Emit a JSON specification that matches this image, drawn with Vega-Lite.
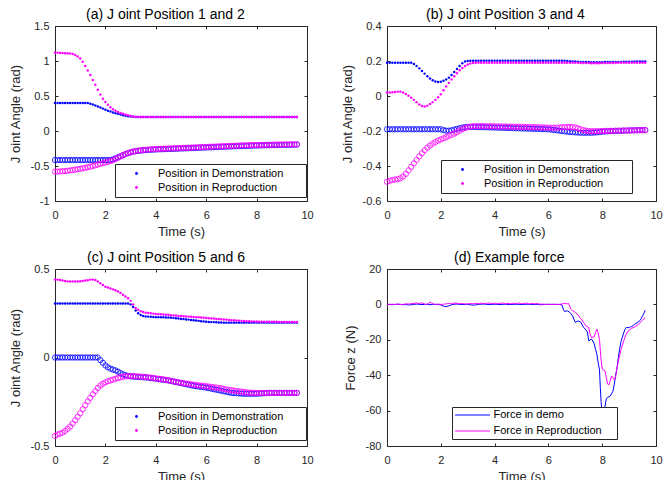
{
"$schema": "https://vega.github.io/schema/vega-lite/v6.json",
"background": "white",
"padding": {"left": 8, "top": 7, "right": 5, "bottom": 0},
"config": {
  "font": "Liberation Sans",
  "view": {"stroke": "#262626", "strokeWidth": 1},
  "axis": {"grid": false, "domain": false, "ticks": true, "tickSize": -3, "tickColor": "#262626", "tickWidth": 1, "labelFont": "Liberation Sans", "labelFontSize": 11, "labelColor": "#262626", "labelPadding": 11, "titleFont": "Liberation Sans", "titleFontSize": 13, "titleFontWeight": "normal", "titleColor": "#262626", "labelFlush": false, "labelOverlap": false},
  "axisX": {"titlePadding": 5},
  "axisY": {"labelPadding": 9, "titlePadding": 8},
  "title": {"font": "Liberation Sans", "fontSize": 14, "fontWeight": "normal", "color": "#000000", "offset": -2, "frame": "group"},
  "legend": {"labelFont": "Liberation Sans", "labelFontSize": 11, "labelColor": "#000000", "strokeColor": "#262626", "fillColor": "#ffffff"}
},
"datasets": {
"a1d": [{"t":0,"v":0.4},{"t":0.1,"v":0.4},{"t":0.2,"v":0.4},{"t":0.3,"v":0.4},{"t":0.4,"v":0.4},{"t":0.5,"v":0.4},{"t":0.6,"v":0.4},{"t":0.7,"v":0.4},{"t":0.8,"v":0.4},{"t":0.9,"v":0.4},{"t":1,"v":0.4},{"t":1.1,"v":0.4},{"t":1.2,"v":0.4},{"t":1.3,"v":0.4},{"t":1.4,"v":0.39},{"t":1.5,"v":0.38},{"t":1.6,"v":0.365},{"t":1.7,"v":0.35},{"t":1.8,"v":0.335},{"t":1.9,"v":0.32},{"t":2,"v":0.305},{"t":2.1,"v":0.29},{"t":2.2,"v":0.278},{"t":2.3,"v":0.265},{"t":2.4,"v":0.255},{"t":2.5,"v":0.245},{"t":2.6,"v":0.235},{"t":2.7,"v":0.226},{"t":2.8,"v":0.218},{"t":2.9,"v":0.211},{"t":3,"v":0.206},{"t":3.1,"v":0.203},{"t":3.2,"v":0.201},{"t":3.3,"v":0.2},{"t":3.4,"v":0.2},{"t":3.5,"v":0.2},{"t":3.6,"v":0.2},{"t":3.7,"v":0.2},{"t":3.8,"v":0.2},{"t":3.9,"v":0.2},{"t":4,"v":0.2},{"t":4.1,"v":0.2},{"t":4.2,"v":0.2},{"t":4.3,"v":0.2},{"t":4.4,"v":0.2},{"t":4.5,"v":0.2},{"t":4.6,"v":0.2},{"t":4.7,"v":0.2},{"t":4.8,"v":0.2},{"t":4.9,"v":0.2},{"t":5,"v":0.2},{"t":5.1,"v":0.2},{"t":5.2,"v":0.2},{"t":5.3,"v":0.2},{"t":5.4,"v":0.2},{"t":5.5,"v":0.2},{"t":5.6,"v":0.2},{"t":5.7,"v":0.2},{"t":5.8,"v":0.2},{"t":5.9,"v":0.2},{"t":6,"v":0.2},{"t":6.1,"v":0.2},{"t":6.2,"v":0.2},{"t":6.3,"v":0.2},{"t":6.4,"v":0.2},{"t":6.5,"v":0.2},{"t":6.6,"v":0.2},{"t":6.7,"v":0.2},{"t":6.8,"v":0.2},{"t":6.9,"v":0.2},{"t":7,"v":0.2},{"t":7.1,"v":0.2},{"t":7.2,"v":0.2},{"t":7.3,"v":0.2},{"t":7.4,"v":0.2},{"t":7.5,"v":0.2},{"t":7.6,"v":0.2},{"t":7.7,"v":0.2},{"t":7.8,"v":0.2},{"t":7.9,"v":0.2},{"t":8,"v":0.2},{"t":8.1,"v":0.2},{"t":8.2,"v":0.2},{"t":8.3,"v":0.2},{"t":8.4,"v":0.2},{"t":8.5,"v":0.2},{"t":8.6,"v":0.2},{"t":8.7,"v":0.2},{"t":8.8,"v":0.2},{"t":8.9,"v":0.2},{"t":9,"v":0.2},{"t":9.1,"v":0.2},{"t":9.2,"v":0.2},{"t":9.3,"v":0.2},{"t":9.4,"v":0.2},{"t":9.5,"v":0.2},{"t":9.6,"v":0.2}],
"a1r": [{"t":0,"v":1.12},{"t":0.1,"v":1.12},{"t":0.2,"v":1.115},{"t":0.3,"v":1.113},{"t":0.4,"v":1.112},{"t":0.5,"v":1.11},{"t":0.6,"v":1.108},{"t":0.7,"v":1.1},{"t":0.8,"v":1.085},{"t":0.9,"v":1.065},{"t":1,"v":1.035},{"t":1.1,"v":0.99},{"t":1.2,"v":0.93},{"t":1.3,"v":0.865},{"t":1.4,"v":0.8},{"t":1.5,"v":0.73},{"t":1.6,"v":0.66},{"t":1.7,"v":0.59},{"t":1.8,"v":0.52},{"t":1.9,"v":0.46},{"t":2,"v":0.415},{"t":2.1,"v":0.375},{"t":2.2,"v":0.34},{"t":2.3,"v":0.31},{"t":2.4,"v":0.29},{"t":2.5,"v":0.272},{"t":2.6,"v":0.258},{"t":2.7,"v":0.247},{"t":2.8,"v":0.235},{"t":2.9,"v":0.225},{"t":3,"v":0.215},{"t":3.1,"v":0.208},{"t":3.2,"v":0.204},{"t":3.3,"v":0.202},{"t":3.4,"v":0.2},{"t":3.5,"v":0.2},{"t":3.6,"v":0.2},{"t":3.7,"v":0.2},{"t":3.8,"v":0.2},{"t":3.9,"v":0.2},{"t":4,"v":0.2},{"t":4.1,"v":0.2},{"t":4.2,"v":0.2},{"t":4.3,"v":0.2},{"t":4.4,"v":0.2},{"t":4.5,"v":0.2},{"t":4.6,"v":0.2},{"t":4.7,"v":0.2},{"t":4.8,"v":0.2},{"t":4.9,"v":0.2},{"t":5,"v":0.2},{"t":5.1,"v":0.2},{"t":5.2,"v":0.2},{"t":5.3,"v":0.2},{"t":5.4,"v":0.2},{"t":5.5,"v":0.2},{"t":5.6,"v":0.2},{"t":5.7,"v":0.2},{"t":5.8,"v":0.2},{"t":5.9,"v":0.2},{"t":6,"v":0.2},{"t":6.1,"v":0.2},{"t":6.2,"v":0.2},{"t":6.3,"v":0.2},{"t":6.4,"v":0.2},{"t":6.5,"v":0.2},{"t":6.6,"v":0.2},{"t":6.7,"v":0.2},{"t":6.8,"v":0.2},{"t":6.9,"v":0.2},{"t":7,"v":0.2},{"t":7.1,"v":0.2},{"t":7.2,"v":0.2},{"t":7.3,"v":0.2},{"t":7.4,"v":0.2},{"t":7.5,"v":0.2},{"t":7.6,"v":0.2},{"t":7.7,"v":0.2},{"t":7.8,"v":0.2},{"t":7.9,"v":0.2},{"t":8,"v":0.2},{"t":8.1,"v":0.2},{"t":8.2,"v":0.2},{"t":8.3,"v":0.2},{"t":8.4,"v":0.2},{"t":8.5,"v":0.2},{"t":8.6,"v":0.2},{"t":8.7,"v":0.2},{"t":8.8,"v":0.2},{"t":8.9,"v":0.2},{"t":9,"v":0.2},{"t":9.1,"v":0.2},{"t":9.2,"v":0.2},{"t":9.3,"v":0.2},{"t":9.4,"v":0.2},{"t":9.5,"v":0.2},{"t":9.6,"v":0.2}],
"a2d": [{"t":0,"v":-0.415},{"t":0.1,"v":-0.415},{"t":0.2,"v":-0.415},{"t":0.3,"v":-0.415},{"t":0.4,"v":-0.415},{"t":0.5,"v":-0.415},{"t":0.6,"v":-0.415},{"t":0.7,"v":-0.415},{"t":0.8,"v":-0.415},{"t":0.9,"v":-0.415},{"t":1,"v":-0.415},{"t":1.1,"v":-0.415},{"t":1.2,"v":-0.415},{"t":1.3,"v":-0.415},{"t":1.4,"v":-0.415},{"t":1.5,"v":-0.415},{"t":1.6,"v":-0.415},{"t":1.7,"v":-0.415},{"t":1.8,"v":-0.415},{"t":1.9,"v":-0.415},{"t":2,"v":-0.415},{"t":2.1,"v":-0.415},{"t":2.2,"v":-0.415},{"t":2.3,"v":-0.405},{"t":2.4,"v":-0.39},{"t":2.5,"v":-0.375},{"t":2.6,"v":-0.36},{"t":2.7,"v":-0.345},{"t":2.8,"v":-0.33},{"t":2.9,"v":-0.317},{"t":3,"v":-0.305},{"t":3.1,"v":-0.296},{"t":3.2,"v":-0.289},{"t":3.3,"v":-0.284},{"t":3.4,"v":-0.28},{"t":3.5,"v":-0.276},{"t":3.6,"v":-0.273},{"t":3.7,"v":-0.27},{"t":3.8,"v":-0.268},{"t":3.9,"v":-0.266},{"t":4,"v":-0.264},{"t":4.1,"v":-0.263},{"t":4.2,"v":-0.261},{"t":4.3,"v":-0.26},{"t":4.4,"v":-0.259},{"t":4.5,"v":-0.257},{"t":4.6,"v":-0.256},{"t":4.7,"v":-0.255},{"t":4.8,"v":-0.253},{"t":4.9,"v":-0.252},{"t":5,"v":-0.25},{"t":5.1,"v":-0.249},{"t":5.2,"v":-0.248},{"t":5.3,"v":-0.246},{"t":5.4,"v":-0.245},{"t":5.5,"v":-0.243},{"t":5.6,"v":-0.242},{"t":5.7,"v":-0.24},{"t":5.8,"v":-0.239},{"t":5.9,"v":-0.237},{"t":6,"v":-0.236},{"t":6.1,"v":-0.234},{"t":6.2,"v":-0.233},{"t":6.3,"v":-0.231},{"t":6.4,"v":-0.23},{"t":6.5,"v":-0.228},{"t":6.6,"v":-0.227},{"t":6.7,"v":-0.225},{"t":6.8,"v":-0.224},{"t":6.9,"v":-0.222},{"t":7,"v":-0.221},{"t":7.1,"v":-0.22},{"t":7.2,"v":-0.218},{"t":7.3,"v":-0.217},{"t":7.4,"v":-0.215},{"t":7.5,"v":-0.214},{"t":7.6,"v":-0.213},{"t":7.7,"v":-0.212},{"t":7.8,"v":-0.21},{"t":7.9,"v":-0.209},{"t":8,"v":-0.208},{"t":8.1,"v":-0.207},{"t":8.2,"v":-0.206},{"t":8.3,"v":-0.205},{"t":8.4,"v":-0.204},{"t":8.5,"v":-0.203},{"t":8.6,"v":-0.202},{"t":8.7,"v":-0.201},{"t":8.8,"v":-0.2},{"t":8.9,"v":-0.2},{"t":9,"v":-0.199},{"t":9.1,"v":-0.198},{"t":9.2,"v":-0.198},{"t":9.3,"v":-0.197},{"t":9.4,"v":-0.196},{"t":9.5,"v":-0.196},{"t":9.6,"v":-0.195}],
"a2r": [{"t":0,"v":-0.58},{"t":0.1,"v":-0.58},{"t":0.2,"v":-0.578},{"t":0.3,"v":-0.575},{"t":0.4,"v":-0.572},{"t":0.5,"v":-0.568},{"t":0.6,"v":-0.563},{"t":0.7,"v":-0.558},{"t":0.8,"v":-0.552},{"t":0.9,"v":-0.546},{"t":1,"v":-0.54},{"t":1.1,"v":-0.533},{"t":1.2,"v":-0.526},{"t":1.3,"v":-0.518},{"t":1.4,"v":-0.51},{"t":1.5,"v":-0.5},{"t":1.6,"v":-0.49},{"t":1.7,"v":-0.48},{"t":1.8,"v":-0.47},{"t":1.9,"v":-0.46},{"t":2,"v":-0.45},{"t":2.1,"v":-0.44},{"t":2.2,"v":-0.43},{"t":2.3,"v":-0.418},{"t":2.4,"v":-0.4},{"t":2.5,"v":-0.382},{"t":2.6,"v":-0.363},{"t":2.7,"v":-0.345},{"t":2.8,"v":-0.328},{"t":2.9,"v":-0.313},{"t":3,"v":-0.302},{"t":3.1,"v":-0.293},{"t":3.2,"v":-0.286},{"t":3.3,"v":-0.28},{"t":3.4,"v":-0.275},{"t":3.5,"v":-0.271},{"t":3.6,"v":-0.268},{"t":3.7,"v":-0.265},{"t":3.8,"v":-0.262},{"t":3.9,"v":-0.26},{"t":4,"v":-0.258},{"t":4.1,"v":-0.256},{"t":4.2,"v":-0.255},{"t":4.3,"v":-0.253},{"t":4.4,"v":-0.252},{"t":4.5,"v":-0.25},{"t":4.6,"v":-0.249},{"t":4.7,"v":-0.247},{"t":4.8,"v":-0.246},{"t":4.9,"v":-0.244},{"t":5,"v":-0.243},{"t":5.1,"v":-0.241},{"t":5.2,"v":-0.24},{"t":5.3,"v":-0.238},{"t":5.4,"v":-0.237},{"t":5.5,"v":-0.235},{"t":5.6,"v":-0.233},{"t":5.7,"v":-0.232},{"t":5.8,"v":-0.23},{"t":5.9,"v":-0.229},{"t":6,"v":-0.227},{"t":6.1,"v":-0.226},{"t":6.2,"v":-0.224},{"t":6.3,"v":-0.223},{"t":6.4,"v":-0.221},{"t":6.5,"v":-0.22},{"t":6.6,"v":-0.218},{"t":6.7,"v":-0.217},{"t":6.8,"v":-0.215},{"t":6.9,"v":-0.214},{"t":7,"v":-0.212},{"t":7.1,"v":-0.211},{"t":7.2,"v":-0.209},{"t":7.3,"v":-0.208},{"t":7.4,"v":-0.206},{"t":7.5,"v":-0.205},{"t":7.6,"v":-0.204},{"t":7.7,"v":-0.203},{"t":7.8,"v":-0.202},{"t":7.9,"v":-0.201},{"t":8,"v":-0.2},{"t":8.1,"v":-0.199},{"t":8.2,"v":-0.198},{"t":8.3,"v":-0.198},{"t":8.4,"v":-0.197},{"t":8.5,"v":-0.196},{"t":8.6,"v":-0.196},{"t":8.7,"v":-0.195},{"t":8.8,"v":-0.194},{"t":8.9,"v":-0.194},{"t":9,"v":-0.193},{"t":9.1,"v":-0.193},{"t":9.2,"v":-0.192},{"t":9.3,"v":-0.192},{"t":9.4,"v":-0.191},{"t":9.5,"v":-0.191},{"t":9.6,"v":-0.19}],
"b1d": [{"t":0,"v":0.19},{"t":0.1,"v":0.19},{"t":0.2,"v":0.19},{"t":0.3,"v":0.19},{"t":0.4,"v":0.19},{"t":0.5,"v":0.19},{"t":0.6,"v":0.19},{"t":0.7,"v":0.19},{"t":0.8,"v":0.19},{"t":0.9,"v":0.19},{"t":1,"v":0.183},{"t":1.1,"v":0.172},{"t":1.2,"v":0.158},{"t":1.3,"v":0.143},{"t":1.4,"v":0.128},{"t":1.5,"v":0.113},{"t":1.6,"v":0.1},{"t":1.7,"v":0.09},{"t":1.8,"v":0.083},{"t":1.9,"v":0.08},{"t":2,"v":0.082},{"t":2.1,"v":0.087},{"t":2.2,"v":0.095},{"t":2.3,"v":0.105},{"t":2.4,"v":0.12},{"t":2.5,"v":0.137},{"t":2.6,"v":0.155},{"t":2.7,"v":0.172},{"t":2.8,"v":0.187},{"t":2.9,"v":0.197},{"t":3,"v":0.2},{"t":3.1,"v":0.202},{"t":3.2,"v":0.202},{"t":3.3,"v":0.202},{"t":3.4,"v":0.202},{"t":3.5,"v":0.202},{"t":3.6,"v":0.202},{"t":3.7,"v":0.202},{"t":3.8,"v":0.202},{"t":3.9,"v":0.202},{"t":4,"v":0.202},{"t":4.1,"v":0.202},{"t":4.2,"v":0.202},{"t":4.3,"v":0.202},{"t":4.4,"v":0.202},{"t":4.5,"v":0.202},{"t":4.6,"v":0.202},{"t":4.7,"v":0.202},{"t":4.8,"v":0.202},{"t":4.9,"v":0.202},{"t":5,"v":0.202},{"t":5.1,"v":0.202},{"t":5.2,"v":0.202},{"t":5.3,"v":0.202},{"t":5.4,"v":0.202},{"t":5.5,"v":0.202},{"t":5.6,"v":0.202},{"t":5.7,"v":0.202},{"t":5.8,"v":0.202},{"t":5.9,"v":0.202},{"t":6,"v":0.202},{"t":6.1,"v":0.202},{"t":6.2,"v":0.202},{"t":6.3,"v":0.202},{"t":6.4,"v":0.202},{"t":6.5,"v":0.202},{"t":6.6,"v":0.201},{"t":6.7,"v":0.2},{"t":6.8,"v":0.199},{"t":6.9,"v":0.198},{"t":7,"v":0.197},{"t":7.1,"v":0.196},{"t":7.2,"v":0.195},{"t":7.3,"v":0.195},{"t":7.4,"v":0.194},{"t":7.5,"v":0.194},{"t":7.6,"v":0.193},{"t":7.7,"v":0.193},{"t":7.8,"v":0.193},{"t":7.9,"v":0.193},{"t":8,"v":0.193},{"t":8.1,"v":0.194},{"t":8.2,"v":0.194},{"t":8.3,"v":0.194},{"t":8.4,"v":0.195},{"t":8.5,"v":0.195},{"t":8.6,"v":0.195},{"t":8.7,"v":0.195},{"t":8.8,"v":0.196},{"t":8.9,"v":0.196},{"t":9,"v":0.196},{"t":9.1,"v":0.196},{"t":9.2,"v":0.197},{"t":9.3,"v":0.197},{"t":9.4,"v":0.197},{"t":9.5,"v":0.198},{"t":9.6,"v":0.198}],
"b1r": [{"t":0,"v":0.02},{"t":0.1,"v":0.02},{"t":0.2,"v":0.021},{"t":0.3,"v":0.023},{"t":0.4,"v":0.025},{"t":0.5,"v":0.025},{"t":0.6,"v":0.02},{"t":0.7,"v":0.012},{"t":0.8,"v":0.002},{"t":0.9,"v":-0.01},{"t":1,"v":-0.022},{"t":1.1,"v":-0.035},{"t":1.2,"v":-0.048},{"t":1.3,"v":-0.057},{"t":1.4,"v":-0.06},{"t":1.5,"v":-0.055},{"t":1.6,"v":-0.046},{"t":1.7,"v":-0.035},{"t":1.8,"v":-0.022},{"t":1.9,"v":-0.007},{"t":2,"v":0.01},{"t":2.1,"v":0.033},{"t":2.2,"v":0.055},{"t":2.3,"v":0.075},{"t":2.4,"v":0.095},{"t":2.5,"v":0.113},{"t":2.6,"v":0.13},{"t":2.7,"v":0.147},{"t":2.8,"v":0.16},{"t":2.9,"v":0.172},{"t":3,"v":0.18},{"t":3.1,"v":0.186},{"t":3.2,"v":0.189},{"t":3.3,"v":0.19},{"t":3.4,"v":0.19},{"t":3.5,"v":0.19},{"t":3.6,"v":0.19},{"t":3.7,"v":0.19},{"t":3.8,"v":0.19},{"t":3.9,"v":0.19},{"t":4,"v":0.19},{"t":4.1,"v":0.19},{"t":4.2,"v":0.19},{"t":4.3,"v":0.19},{"t":4.4,"v":0.19},{"t":4.5,"v":0.19},{"t":4.6,"v":0.19},{"t":4.7,"v":0.19},{"t":4.8,"v":0.19},{"t":4.9,"v":0.19},{"t":5,"v":0.19},{"t":5.1,"v":0.19},{"t":5.2,"v":0.19},{"t":5.3,"v":0.19},{"t":5.4,"v":0.19},{"t":5.5,"v":0.19},{"t":5.6,"v":0.19},{"t":5.7,"v":0.19},{"t":5.8,"v":0.19},{"t":5.9,"v":0.19},{"t":6,"v":0.19},{"t":6.1,"v":0.19},{"t":6.2,"v":0.19},{"t":6.3,"v":0.19},{"t":6.4,"v":0.19},{"t":6.5,"v":0.19},{"t":6.6,"v":0.19},{"t":6.7,"v":0.19},{"t":6.8,"v":0.19},{"t":6.9,"v":0.19},{"t":7,"v":0.19},{"t":7.1,"v":0.19},{"t":7.2,"v":0.189},{"t":7.3,"v":0.189},{"t":7.4,"v":0.188},{"t":7.5,"v":0.188},{"t":7.6,"v":0.187},{"t":7.7,"v":0.187},{"t":7.8,"v":0.187},{"t":7.9,"v":0.187},{"t":8,"v":0.188},{"t":8.1,"v":0.188},{"t":8.2,"v":0.188},{"t":8.3,"v":0.189},{"t":8.4,"v":0.189},{"t":8.5,"v":0.189},{"t":8.6,"v":0.19},{"t":8.7,"v":0.19},{"t":8.8,"v":0.19},{"t":8.9,"v":0.19},{"t":9,"v":0.19},{"t":9.1,"v":0.19},{"t":9.2,"v":0.19},{"t":9.3,"v":0.19},{"t":9.4,"v":0.19},{"t":9.5,"v":0.19},{"t":9.6,"v":0.19}],
"b2d": [{"t":0,"v":-0.19},{"t":0.1,"v":-0.19},{"t":0.2,"v":-0.19},{"t":0.3,"v":-0.19},{"t":0.4,"v":-0.19},{"t":0.5,"v":-0.19},{"t":0.6,"v":-0.19},{"t":0.7,"v":-0.19},{"t":0.8,"v":-0.19},{"t":0.9,"v":-0.19},{"t":1,"v":-0.19},{"t":1.1,"v":-0.19},{"t":1.2,"v":-0.19},{"t":1.3,"v":-0.19},{"t":1.4,"v":-0.19},{"t":1.5,"v":-0.19},{"t":1.6,"v":-0.19},{"t":1.7,"v":-0.19},{"t":1.8,"v":-0.19},{"t":1.9,"v":-0.19},{"t":2,"v":-0.19},{"t":2.1,"v":-0.195},{"t":2.2,"v":-0.198},{"t":2.3,"v":-0.198},{"t":2.4,"v":-0.196},{"t":2.5,"v":-0.192},{"t":2.6,"v":-0.188},{"t":2.7,"v":-0.184},{"t":2.8,"v":-0.18},{"t":2.9,"v":-0.178},{"t":3,"v":-0.177},{"t":3.1,"v":-0.177},{"t":3.2,"v":-0.177},{"t":3.3,"v":-0.177},{"t":3.4,"v":-0.178},{"t":3.5,"v":-0.178},{"t":3.6,"v":-0.178},{"t":3.7,"v":-0.179},{"t":3.8,"v":-0.179},{"t":3.9,"v":-0.18},{"t":4,"v":-0.18},{"t":4.1,"v":-0.181},{"t":4.2,"v":-0.181},{"t":4.3,"v":-0.182},{"t":4.4,"v":-0.182},{"t":4.5,"v":-0.183},{"t":4.6,"v":-0.183},{"t":4.7,"v":-0.184},{"t":4.8,"v":-0.184},{"t":4.9,"v":-0.185},{"t":5,"v":-0.185},{"t":5.1,"v":-0.186},{"t":5.2,"v":-0.186},{"t":5.3,"v":-0.187},{"t":5.4,"v":-0.187},{"t":5.5,"v":-0.188},{"t":5.6,"v":-0.188},{"t":5.7,"v":-0.189},{"t":5.8,"v":-0.189},{"t":5.9,"v":-0.19},{"t":6,"v":-0.19},{"t":6.1,"v":-0.192},{"t":6.2,"v":-0.194},{"t":6.3,"v":-0.196},{"t":6.4,"v":-0.198},{"t":6.5,"v":-0.2},{"t":6.6,"v":-0.202},{"t":6.7,"v":-0.204},{"t":6.8,"v":-0.206},{"t":6.9,"v":-0.207},{"t":7,"v":-0.208},{"t":7.1,"v":-0.209},{"t":7.2,"v":-0.21},{"t":7.3,"v":-0.21},{"t":7.4,"v":-0.21},{"t":7.5,"v":-0.21},{"t":7.6,"v":-0.21},{"t":7.7,"v":-0.209},{"t":7.8,"v":-0.208},{"t":7.9,"v":-0.206},{"t":8,"v":-0.204},{"t":8.1,"v":-0.203},{"t":8.2,"v":-0.202},{"t":8.3,"v":-0.201},{"t":8.4,"v":-0.2},{"t":8.5,"v":-0.2},{"t":8.6,"v":-0.199},{"t":8.7,"v":-0.199},{"t":8.8,"v":-0.198},{"t":8.9,"v":-0.198},{"t":9,"v":-0.197},{"t":9.1,"v":-0.197},{"t":9.2,"v":-0.196},{"t":9.3,"v":-0.196},{"t":9.4,"v":-0.195},{"t":9.5,"v":-0.195},{"t":9.6,"v":-0.195}],
"b2r": [{"t":0,"v":-0.49},{"t":0.1,"v":-0.485},{"t":0.2,"v":-0.48},{"t":0.3,"v":-0.477},{"t":0.4,"v":-0.475},{"t":0.5,"v":-0.47},{"t":0.6,"v":-0.46},{"t":0.7,"v":-0.445},{"t":0.8,"v":-0.425},{"t":0.9,"v":-0.405},{"t":1,"v":-0.385},{"t":1.1,"v":-0.365},{"t":1.2,"v":-0.345},{"t":1.3,"v":-0.327},{"t":1.4,"v":-0.31},{"t":1.5,"v":-0.295},{"t":1.6,"v":-0.283},{"t":1.7,"v":-0.272},{"t":1.8,"v":-0.263},{"t":1.9,"v":-0.255},{"t":2,"v":-0.248},{"t":2.1,"v":-0.242},{"t":2.2,"v":-0.235},{"t":2.3,"v":-0.228},{"t":2.4,"v":-0.222},{"t":2.5,"v":-0.215},{"t":2.6,"v":-0.207},{"t":2.7,"v":-0.198},{"t":2.8,"v":-0.19},{"t":2.9,"v":-0.183},{"t":3,"v":-0.178},{"t":3.1,"v":-0.175},{"t":3.2,"v":-0.173},{"t":3.3,"v":-0.172},{"t":3.4,"v":-0.172},{"t":3.5,"v":-0.172},{"t":3.6,"v":-0.172},{"t":3.7,"v":-0.173},{"t":3.8,"v":-0.173},{"t":3.9,"v":-0.173},{"t":4,"v":-0.173},{"t":4.1,"v":-0.174},{"t":4.2,"v":-0.174},{"t":4.3,"v":-0.174},{"t":4.4,"v":-0.174},{"t":4.5,"v":-0.175},{"t":4.6,"v":-0.175},{"t":4.7,"v":-0.175},{"t":4.8,"v":-0.176},{"t":4.9,"v":-0.176},{"t":5,"v":-0.176},{"t":5.1,"v":-0.176},{"t":5.2,"v":-0.177},{"t":5.3,"v":-0.177},{"t":5.4,"v":-0.178},{"t":5.5,"v":-0.178},{"t":5.6,"v":-0.179},{"t":5.7,"v":-0.179},{"t":5.8,"v":-0.18},{"t":5.9,"v":-0.18},{"t":6,"v":-0.181},{"t":6.1,"v":-0.181},{"t":6.2,"v":-0.181},{"t":6.3,"v":-0.181},{"t":6.4,"v":-0.18},{"t":6.5,"v":-0.179},{"t":6.6,"v":-0.178},{"t":6.7,"v":-0.177},{"t":6.8,"v":-0.177},{"t":6.9,"v":-0.178},{"t":7,"v":-0.18},{"t":7.1,"v":-0.185},{"t":7.2,"v":-0.19},{"t":7.3,"v":-0.195},{"t":7.4,"v":-0.198},{"t":7.5,"v":-0.2},{"t":7.6,"v":-0.201},{"t":7.7,"v":-0.201},{"t":7.8,"v":-0.201},{"t":7.9,"v":-0.2},{"t":8,"v":-0.2},{"t":8.1,"v":-0.2},{"t":8.2,"v":-0.199},{"t":8.3,"v":-0.199},{"t":8.4,"v":-0.199},{"t":8.5,"v":-0.198},{"t":8.6,"v":-0.198},{"t":8.7,"v":-0.198},{"t":8.8,"v":-0.197},{"t":8.9,"v":-0.197},{"t":9,"v":-0.197},{"t":9.1,"v":-0.196},{"t":9.2,"v":-0.196},{"t":9.3,"v":-0.196},{"t":9.4,"v":-0.195},{"t":9.5,"v":-0.195},{"t":9.6,"v":-0.195}],
"c1d": [{"t":0,"v":0.305},{"t":0.1,"v":0.305},{"t":0.2,"v":0.305},{"t":0.3,"v":0.305},{"t":0.4,"v":0.305},{"t":0.5,"v":0.305},{"t":0.6,"v":0.305},{"t":0.7,"v":0.305},{"t":0.8,"v":0.305},{"t":0.9,"v":0.305},{"t":1,"v":0.305},{"t":1.1,"v":0.305},{"t":1.2,"v":0.305},{"t":1.3,"v":0.305},{"t":1.4,"v":0.305},{"t":1.5,"v":0.305},{"t":1.6,"v":0.305},{"t":1.7,"v":0.305},{"t":1.8,"v":0.305},{"t":1.9,"v":0.305},{"t":2,"v":0.305},{"t":2.1,"v":0.305},{"t":2.2,"v":0.305},{"t":2.3,"v":0.305},{"t":2.4,"v":0.305},{"t":2.5,"v":0.305},{"t":2.6,"v":0.305},{"t":2.7,"v":0.305},{"t":2.8,"v":0.305},{"t":2.9,"v":0.305},{"t":3,"v":0.3},{"t":3.1,"v":0.285},{"t":3.2,"v":0.265},{"t":3.3,"v":0.25},{"t":3.4,"v":0.24},{"t":3.5,"v":0.235},{"t":3.6,"v":0.232},{"t":3.7,"v":0.231},{"t":3.8,"v":0.23},{"t":3.9,"v":0.229},{"t":4,"v":0.228},{"t":4.1,"v":0.228},{"t":4.2,"v":0.227},{"t":4.3,"v":0.227},{"t":4.4,"v":0.226},{"t":4.5,"v":0.226},{"t":4.6,"v":0.225},{"t":4.7,"v":0.224},{"t":4.8,"v":0.222},{"t":4.9,"v":0.22},{"t":5,"v":0.218},{"t":5.1,"v":0.217},{"t":5.2,"v":0.215},{"t":5.3,"v":0.214},{"t":5.4,"v":0.212},{"t":5.5,"v":0.21},{"t":5.6,"v":0.209},{"t":5.7,"v":0.207},{"t":5.8,"v":0.205},{"t":5.9,"v":0.204},{"t":6,"v":0.202},{"t":6.1,"v":0.201},{"t":6.2,"v":0.2},{"t":6.3,"v":0.2},{"t":6.4,"v":0.199},{"t":6.5,"v":0.198},{"t":6.6,"v":0.198},{"t":6.7,"v":0.197},{"t":6.8,"v":0.197},{"t":6.9,"v":0.197},{"t":7,"v":0.197},{"t":7.1,"v":0.197},{"t":7.2,"v":0.197},{"t":7.3,"v":0.197},{"t":7.4,"v":0.197},{"t":7.5,"v":0.197},{"t":7.6,"v":0.197},{"t":7.7,"v":0.197},{"t":7.8,"v":0.197},{"t":7.9,"v":0.197},{"t":8,"v":0.197},{"t":8.1,"v":0.197},{"t":8.2,"v":0.197},{"t":8.3,"v":0.197},{"t":8.4,"v":0.197},{"t":8.5,"v":0.197},{"t":8.6,"v":0.197},{"t":8.7,"v":0.197},{"t":8.8,"v":0.197},{"t":8.9,"v":0.197},{"t":9,"v":0.197},{"t":9.1,"v":0.197},{"t":9.2,"v":0.197},{"t":9.3,"v":0.197},{"t":9.4,"v":0.197},{"t":9.5,"v":0.197},{"t":9.6,"v":0.197}],
"c1r": [{"t":0,"v":0.44},{"t":0.1,"v":0.44},{"t":0.2,"v":0.438},{"t":0.3,"v":0.435},{"t":0.4,"v":0.432},{"t":0.5,"v":0.43},{"t":0.6,"v":0.43},{"t":0.7,"v":0.43},{"t":0.8,"v":0.43},{"t":0.9,"v":0.43},{"t":1,"v":0.431},{"t":1.1,"v":0.432},{"t":1.2,"v":0.435},{"t":1.3,"v":0.437},{"t":1.4,"v":0.44},{"t":1.5,"v":0.44},{"t":1.6,"v":0.438},{"t":1.7,"v":0.43},{"t":1.8,"v":0.42},{"t":1.9,"v":0.41},{"t":2,"v":0.4},{"t":2.1,"v":0.395},{"t":2.2,"v":0.39},{"t":2.3,"v":0.385},{"t":2.4,"v":0.38},{"t":2.5,"v":0.373},{"t":2.6,"v":0.365},{"t":2.7,"v":0.355},{"t":2.8,"v":0.345},{"t":2.9,"v":0.335},{"t":3,"v":0.32},{"t":3.1,"v":0.3},{"t":3.2,"v":0.28},{"t":3.3,"v":0.27},{"t":3.4,"v":0.262},{"t":3.5,"v":0.257},{"t":3.6,"v":0.253},{"t":3.7,"v":0.251},{"t":3.8,"v":0.25},{"t":3.9,"v":0.248},{"t":4,"v":0.246},{"t":4.1,"v":0.245},{"t":4.2,"v":0.244},{"t":4.3,"v":0.243},{"t":4.4,"v":0.242},{"t":4.5,"v":0.241},{"t":4.6,"v":0.239},{"t":4.7,"v":0.238},{"t":4.8,"v":0.237},{"t":4.9,"v":0.235},{"t":5,"v":0.234},{"t":5.1,"v":0.233},{"t":5.2,"v":0.232},{"t":5.3,"v":0.231},{"t":5.4,"v":0.23},{"t":5.5,"v":0.229},{"t":5.6,"v":0.228},{"t":5.7,"v":0.227},{"t":5.8,"v":0.226},{"t":5.9,"v":0.225},{"t":6,"v":0.223},{"t":6.1,"v":0.222},{"t":6.2,"v":0.221},{"t":6.3,"v":0.22},{"t":6.4,"v":0.218},{"t":6.5,"v":0.217},{"t":6.6,"v":0.216},{"t":6.7,"v":0.215},{"t":6.8,"v":0.214},{"t":6.9,"v":0.212},{"t":7,"v":0.211},{"t":7.1,"v":0.21},{"t":7.2,"v":0.209},{"t":7.3,"v":0.208},{"t":7.4,"v":0.207},{"t":7.5,"v":0.206},{"t":7.6,"v":0.205},{"t":7.7,"v":0.205},{"t":7.8,"v":0.204},{"t":7.9,"v":0.203},{"t":8,"v":0.203},{"t":8.1,"v":0.202},{"t":8.2,"v":0.202},{"t":8.3,"v":0.202},{"t":8.4,"v":0.202},{"t":8.5,"v":0.202},{"t":8.6,"v":0.202},{"t":8.7,"v":0.202},{"t":8.8,"v":0.202},{"t":8.9,"v":0.201},{"t":9,"v":0.201},{"t":9.1,"v":0.201},{"t":9.2,"v":0.201},{"t":9.3,"v":0.201},{"t":9.4,"v":0.201},{"t":9.5,"v":0.201},{"t":9.6,"v":0.201}],
"c2d": [{"t":0,"v":0},{"t":0.1,"v":0},{"t":0.2,"v":0},{"t":0.3,"v":0},{"t":0.4,"v":0},{"t":0.5,"v":0},{"t":0.6,"v":0},{"t":0.7,"v":0},{"t":0.8,"v":0},{"t":0.9,"v":0},{"t":1,"v":0},{"t":1.1,"v":0},{"t":1.2,"v":0},{"t":1.3,"v":0},{"t":1.4,"v":0},{"t":1.5,"v":0},{"t":1.6,"v":0},{"t":1.7,"v":0},{"t":1.8,"v":-0.015},{"t":1.9,"v":-0.03},{"t":2,"v":-0.045},{"t":2.1,"v":-0.055},{"t":2.2,"v":-0.063},{"t":2.3,"v":-0.068},{"t":2.4,"v":-0.073},{"t":2.5,"v":-0.08},{"t":2.6,"v":-0.088},{"t":2.7,"v":-0.095},{"t":2.8,"v":-0.1},{"t":2.9,"v":-0.104},{"t":3,"v":-0.107},{"t":3.1,"v":-0.108},{"t":3.2,"v":-0.109},{"t":3.3,"v":-0.11},{"t":3.4,"v":-0.111},{"t":3.5,"v":-0.112},{"t":3.6,"v":-0.113},{"t":3.7,"v":-0.114},{"t":3.8,"v":-0.116},{"t":3.9,"v":-0.118},{"t":4,"v":-0.12},{"t":4.1,"v":-0.122},{"t":4.2,"v":-0.124},{"t":4.3,"v":-0.126},{"t":4.4,"v":-0.128},{"t":4.5,"v":-0.13},{"t":4.6,"v":-0.133},{"t":4.7,"v":-0.136},{"t":4.8,"v":-0.139},{"t":4.9,"v":-0.142},{"t":5,"v":-0.145},{"t":5.1,"v":-0.148},{"t":5.2,"v":-0.151},{"t":5.3,"v":-0.154},{"t":5.4,"v":-0.157},{"t":5.5,"v":-0.16},{"t":5.6,"v":-0.162},{"t":5.7,"v":-0.164},{"t":5.8,"v":-0.166},{"t":5.9,"v":-0.168},{"t":6,"v":-0.17},{"t":6.1,"v":-0.173},{"t":6.2,"v":-0.176},{"t":6.3,"v":-0.179},{"t":6.4,"v":-0.182},{"t":6.5,"v":-0.185},{"t":6.6,"v":-0.188},{"t":6.7,"v":-0.191},{"t":6.8,"v":-0.194},{"t":6.9,"v":-0.197},{"t":7,"v":-0.2},{"t":7.1,"v":-0.201},{"t":7.2,"v":-0.202},{"t":7.3,"v":-0.203},{"t":7.4,"v":-0.204},{"t":7.5,"v":-0.205},{"t":7.6,"v":-0.205},{"t":7.7,"v":-0.205},{"t":7.8,"v":-0.205},{"t":7.9,"v":-0.205},{"t":8,"v":-0.205},{"t":8.1,"v":-0.204},{"t":8.2,"v":-0.203},{"t":8.3,"v":-0.202},{"t":8.4,"v":-0.201},{"t":8.5,"v":-0.2},{"t":8.6,"v":-0.2},{"t":8.7,"v":-0.2},{"t":8.8,"v":-0.2},{"t":8.9,"v":-0.2},{"t":9,"v":-0.2},{"t":9.1,"v":-0.2},{"t":9.2,"v":-0.2},{"t":9.3,"v":-0.2},{"t":9.4,"v":-0.2},{"t":9.5,"v":-0.2},{"t":9.6,"v":-0.2}],
"c2r": [{"t":0,"v":-0.443},{"t":0.1,"v":-0.435},{"t":0.2,"v":-0.43},{"t":0.3,"v":-0.425},{"t":0.4,"v":-0.415},{"t":0.5,"v":-0.403},{"t":0.6,"v":-0.39},{"t":0.7,"v":-0.373},{"t":0.8,"v":-0.355},{"t":0.9,"v":-0.335},{"t":1,"v":-0.315},{"t":1.1,"v":-0.292},{"t":1.2,"v":-0.27},{"t":1.3,"v":-0.248},{"t":1.4,"v":-0.228},{"t":1.5,"v":-0.208},{"t":1.6,"v":-0.19},{"t":1.7,"v":-0.172},{"t":1.8,"v":-0.158},{"t":1.9,"v":-0.148},{"t":2,"v":-0.14},{"t":2.1,"v":-0.134},{"t":2.2,"v":-0.13},{"t":2.3,"v":-0.125},{"t":2.4,"v":-0.12},{"t":2.5,"v":-0.116},{"t":2.6,"v":-0.112},{"t":2.7,"v":-0.109},{"t":2.8,"v":-0.107},{"t":2.9,"v":-0.105},{"t":3,"v":-0.105},{"t":3.1,"v":-0.105},{"t":3.2,"v":-0.106},{"t":3.3,"v":-0.107},{"t":3.4,"v":-0.108},{"t":3.5,"v":-0.109},{"t":3.6,"v":-0.11},{"t":3.7,"v":-0.112},{"t":3.8,"v":-0.114},{"t":3.9,"v":-0.116},{"t":4,"v":-0.118},{"t":4.1,"v":-0.12},{"t":4.2,"v":-0.122},{"t":4.3,"v":-0.124},{"t":4.4,"v":-0.126},{"t":4.5,"v":-0.128},{"t":4.6,"v":-0.131},{"t":4.7,"v":-0.134},{"t":4.8,"v":-0.137},{"t":4.9,"v":-0.14},{"t":5,"v":-0.143},{"t":5.1,"v":-0.145},{"t":5.2,"v":-0.147},{"t":5.3,"v":-0.149},{"t":5.4,"v":-0.151},{"t":5.5,"v":-0.153},{"t":5.6,"v":-0.155},{"t":5.7,"v":-0.157},{"t":5.8,"v":-0.159},{"t":5.9,"v":-0.16},{"t":6,"v":-0.162},{"t":6.1,"v":-0.164},{"t":6.2,"v":-0.166},{"t":6.3,"v":-0.168},{"t":6.4,"v":-0.17},{"t":6.5,"v":-0.172},{"t":6.6,"v":-0.174},{"t":6.7,"v":-0.177},{"t":6.8,"v":-0.18},{"t":6.9,"v":-0.183},{"t":7,"v":-0.185},{"t":7.1,"v":-0.187},{"t":7.2,"v":-0.189},{"t":7.3,"v":-0.191},{"t":7.4,"v":-0.193},{"t":7.5,"v":-0.195},{"t":7.6,"v":-0.197},{"t":7.7,"v":-0.198},{"t":7.8,"v":-0.199},{"t":7.9,"v":-0.2},{"t":8,"v":-0.2},{"t":8.1,"v":-0.2},{"t":8.2,"v":-0.2},{"t":8.3,"v":-0.2},{"t":8.4,"v":-0.2},{"t":8.5,"v":-0.2},{"t":8.6,"v":-0.2},{"t":8.7,"v":-0.2},{"t":8.8,"v":-0.2},{"t":8.9,"v":-0.2},{"t":9,"v":-0.2},{"t":9.1,"v":-0.2},{"t":9.2,"v":-0.2},{"t":9.3,"v":-0.2},{"t":9.4,"v":-0.2},{"t":9.5,"v":-0.2},{"t":9.6,"v":-0.2}],
"fd": [{"t":0,"v":0},{"t":0.1,"v":0},{"t":0.2,"v":-0.2},{"t":0.3,"v":0},{"t":0.4,"v":0.1},{"t":0.5,"v":0},{"t":0.6,"v":-0.2},{"t":0.7,"v":-0.1},{"t":0.8,"v":-0.3},{"t":0.9,"v":-0.2},{"t":1,"v":0},{"t":1.1,"v":0.2},{"t":1.2,"v":0},{"t":1.3,"v":-0.1},{"t":1.4,"v":0},{"t":1.5,"v":0.1},{"t":1.6,"v":-0.2},{"t":1.7,"v":0},{"t":1.8,"v":0},{"t":1.9,"v":-0.1},{"t":2,"v":-0.3},{"t":2.1,"v":-1},{"t":2.2,"v":-1.3},{"t":2.3,"v":-0.8},{"t":2.4,"v":-0.2},{"t":2.5,"v":0.1},{"t":2.6,"v":0.2},{"t":2.7,"v":0},{"t":2.8,"v":-0.1},{"t":2.9,"v":0},{"t":3,"v":0.1},{"t":3.1,"v":-0.2},{"t":3.2,"v":-0.4},{"t":3.3,"v":-0.3},{"t":3.4,"v":0},{"t":3.5,"v":0.1},{"t":3.6,"v":0.2},{"t":3.7,"v":0},{"t":3.8,"v":-0.1},{"t":3.9,"v":0},{"t":4,"v":0.1},{"t":4.1,"v":0},{"t":4.2,"v":-0.1},{"t":4.3,"v":0},{"t":4.4,"v":0.1},{"t":4.5,"v":0},{"t":4.6,"v":-0.1},{"t":4.7,"v":0},{"t":4.8,"v":0.1},{"t":4.9,"v":0},{"t":5,"v":-0.1},{"t":5.1,"v":0},{"t":5.2,"v":0.1},{"t":5.3,"v":0},{"t":5.4,"v":-0.1},{"t":5.5,"v":0},{"t":5.6,"v":0},{"t":5.7,"v":-0.2},{"t":5.8,"v":-0.1},{"t":5.9,"v":0},{"t":6,"v":0},{"t":6.1,"v":0},{"t":6.2,"v":0},{"t":6.3,"v":0},{"t":6.4,"v":0},{"t":6.5,"v":-0.3},{"t":6.55,"v":-2.6},{"t":6.6,"v":-4},{"t":6.7,"v":-3.6},{"t":6.8,"v":-4.5},{"t":6.9,"v":-6.5},{"t":7,"v":-10.2},{"t":7.1,"v":-9.3},{"t":7.2,"v":-10},{"t":7.3,"v":-12.8},{"t":7.4,"v":-14.5},{"t":7.45,"v":-15.5},{"t":7.5,"v":-20.6},{"t":7.6,"v":-19.5},{"t":7.7,"v":-22},{"t":7.75,"v":-25.3},{"t":7.8,"v":-28},{"t":7.85,"v":-33},{"t":7.9,"v":-37},{"t":7.93,"v":-47},{"t":7.96,"v":-55},{"t":8,"v":-62.5},{"t":8.05,"v":-60.5},{"t":8.1,"v":-58},{"t":8.15,"v":-53.5},{"t":8.2,"v":-52.5},{"t":8.3,"v":-51.8},{"t":8.4,"v":-49},{"t":8.45,"v":-45},{"t":8.5,"v":-40},{"t":8.55,"v":-36},{"t":8.6,"v":-30},{"t":8.65,"v":-25},{"t":8.7,"v":-21},{"t":8.8,"v":-16},{"t":8.85,"v":-14},{"t":8.9,"v":-13},{"t":9,"v":-13.2},{"t":9.05,"v":-12.6},{"t":9.1,"v":-12.5},{"t":9.2,"v":-11.3},{"t":9.3,"v":-10.3},{"t":9.4,"v":-9.2},{"t":9.45,"v":-8},{"t":9.5,"v":-6.5},{"t":9.55,"v":-5},{"t":9.6,"v":-3.3}],
"fr": [{"t":0,"v":0},{"t":0.1,"v":0},{"t":0.2,"v":0.1},{"t":0.3,"v":0},{"t":0.4,"v":0.2},{"t":0.5,"v":0},{"t":0.6,"v":0},{"t":0.7,"v":0.3},{"t":0.8,"v":0.2},{"t":0.9,"v":0.4},{"t":1,"v":0.6},{"t":1.1,"v":0.8},{"t":1.2,"v":0.5},{"t":1.3,"v":0.9},{"t":1.4,"v":0.2},{"t":1.5,"v":0},{"t":1.6,"v":1.3},{"t":1.7,"v":0.4},{"t":1.8,"v":0},{"t":1.9,"v":0.2},{"t":2,"v":0},{"t":2.1,"v":0.1},{"t":2.2,"v":0.3},{"t":2.3,"v":0.5},{"t":2.4,"v":0.3},{"t":2.5,"v":0.8},{"t":2.6,"v":0.7},{"t":2.7,"v":0.4},{"t":2.8,"v":0.5},{"t":2.9,"v":0.2},{"t":3,"v":0.3},{"t":3.1,"v":0.5},{"t":3.2,"v":0.3},{"t":3.3,"v":0.6},{"t":3.4,"v":0.4},{"t":3.5,"v":0.7},{"t":3.6,"v":0.4},{"t":3.7,"v":0.6},{"t":3.8,"v":0.8},{"t":3.9,"v":0.4},{"t":4,"v":0.7},{"t":4.1,"v":0.3},{"t":4.2,"v":0.6},{"t":4.3,"v":0.8},{"t":4.4,"v":0.4},{"t":4.5,"v":0.6},{"t":4.6,"v":0.3},{"t":4.7,"v":0.7},{"t":4.8,"v":0.4},{"t":4.9,"v":0.8},{"t":5,"v":0.3},{"t":5.1,"v":0.6},{"t":5.2,"v":0.7},{"t":5.3,"v":0.2},{"t":5.4,"v":0.6},{"t":5.5,"v":0.3},{"t":5.6,"v":0.5},{"t":5.7,"v":0.1},{"t":5.8,"v":0.2},{"t":5.9,"v":0},{"t":6,"v":0.1},{"t":6.1,"v":0},{"t":6.2,"v":0.1},{"t":6.3,"v":0},{"t":6.4,"v":0},{"t":6.5,"v":0.2},{"t":6.6,"v":0.6},{"t":6.7,"v":0.3},{"t":6.75,"v":0.5},{"t":6.8,"v":-1.5},{"t":6.85,"v":-3},{"t":6.9,"v":-3.5},{"t":7,"v":-4.5},{"t":7.1,"v":-6},{"t":7.2,"v":-8},{"t":7.3,"v":-10},{"t":7.4,"v":-12.3},{"t":7.5,"v":-13},{"t":7.55,"v":-17},{"t":7.6,"v":-18.7},{"t":7.7,"v":-18.3},{"t":7.75,"v":-16},{"t":7.8,"v":-14},{"t":7.85,"v":-16},{"t":7.9,"v":-20},{"t":7.95,"v":-30},{"t":8,"v":-36.5},{"t":8.1,"v":-37.5},{"t":8.15,"v":-41},{"t":8.2,"v":-45},{"t":8.25,"v":-45.5},{"t":8.3,"v":-43},{"t":8.35,"v":-40.5},{"t":8.4,"v":-41.5},{"t":8.45,"v":-42.5},{"t":8.5,"v":-41},{"t":8.55,"v":-36},{"t":8.6,"v":-32},{"t":8.7,"v":-25.5},{"t":8.8,"v":-20.6},{"t":8.9,"v":-16.5},{"t":9,"v":-14.5},{"t":9.1,"v":-13.5},{"t":9.2,"v":-12.8},{"t":9.3,"v":-11.8},{"t":9.4,"v":-10.5},{"t":9.5,"v":-9},{"t":9.6,"v":-7.3}]
},
"columns": 2,
"spacing": {"row": 68, "column": 80},
"bounds": "flush",
"resolve": {"scale": {"color": "independent", "stroke": "independent"}, "legend": {"color": "independent"}},
"concat": [
{"width": 252, "height": 175,
 "title": {"text": "(a) J oint Position 1 and 2", "anchor": "start", "dx": 31},
 "resolve": {"axis": {"x": "independent", "y": "independent"}},
 "layer": [
  {"data": {"name": "a1d"}, "mark": {"type": "point", "filled": true, "size": 6, "opacity": 1},
   "encoding": {"x": {"field": "t", "type": "quantitative", "scale": {"domain": [0, 10], "nice": false, "zero": false}, "axis": {"title": "Time (s)", "values": [0, 2, 4, 6, 8, 10]}},
    "y": {"field": "v", "type": "quantitative", "scale": {"domain": [-1, 1.5], "nice": false, "zero": false}, "axis": {"title": "J oint Angle (rad)", "values": [-1, -0.5, 0, 0.5, 1, 1.5], "labelExpr": "replace(format(datum.value, ''), '−', '-')"}},
    "color": {"datum": "Position in Demonstration", "scale": {"domain": ["Position in Demonstration", "Position in Reproduction"], "range": ["#0000ff", "#ff00ff"]}, "legend": {"orient": "none", "legendX": 60, "legendY": 138, "title": null, "padding": 4, "rowPadding": 2, "symbolType": "circle", "symbolSize": 8, "symbolStrokeWidth": 0, "symbolOffset": 12, "labelOffset": 16, "labelExpr": "datum.label + '\u00a0\u00a0\u00a0\u00a0\u00a0\u00a0\u200b'"}}}},
  {"data": {"name": "a1r"}, "mark": {"type": "point", "filled": true, "size": 6, "opacity": 1},
   "encoding": {"x": {"field": "t", "type": "quantitative", "axis": null}, "y": {"field": "v", "type": "quantitative", "axis": null},
    "color": {"datum": "Position in Reproduction"}}},
  {"data": {"name": "a2d"}, "mark": {"type": "point", "filled": false, "size": 28, "strokeWidth": 0.8, "opacity": 1},
   "encoding": {"x": {"field": "t", "type": "quantitative", "axis": null}, "y": {"field": "v", "type": "quantitative", "axis": null},
    "stroke": {"datum": "D", "scale": {"domain": ["D", "R"], "range": ["#0000ff", "#ff00ff"]}, "legend": null}}},
  {"data": {"name": "a2r"}, "mark": {"type": "point", "filled": false, "size": 28, "strokeWidth": 0.8, "opacity": 1},
   "encoding": {"x": {"field": "t", "type": "quantitative", "axis": {"orient": "top", "labels": false, "title": null, "values": [0, 2, 4, 6, 8, 10]}}, "y": {"field": "v", "type": "quantitative", "axis": {"orient": "right", "labels": false, "title": null, "minExtent": 0, "values": [-1, -0.5, 0, 0.5, 1, 1.5]}},
    "stroke": {"datum": "R", "legend": null}}}
 ]},
{"width": 269, "height": 175,
 "title": {"text": "(b) J oint Position 3 and 4", "anchor": "start", "dx": 39},
 "resolve": {"axis": {"x": "independent", "y": "independent"}},
 "layer": [
  {"data": {"name": "b1d"}, "mark": {"type": "point", "filled": true, "size": 6, "opacity": 1},
   "encoding": {"x": {"field": "t", "type": "quantitative", "scale": {"domain": [0, 10], "nice": false, "zero": false}, "axis": {"title": "Time (s)", "values": [0, 2, 4, 6, 8, 10]}},
    "y": {"field": "v", "type": "quantitative", "scale": {"domain": [-0.6, 0.4], "nice": false, "zero": false}, "axis": {"title": "J oint Angle (rad)", "values": [-0.6, -0.4, -0.2, 0, 0.2, 0.4], "labelExpr": "replace(format(datum.value, ''), '−', '-')"}},
    "color": {"datum": "Position in Demonstration", "scale": {"domain": ["Position in Demonstration", "Position in Reproduction"], "range": ["#0000ff", "#ff00ff"]}, "legend": {"orient": "none", "legendX": 54, "legendY": 134, "title": null, "padding": 4, "rowPadding": 2, "symbolType": "circle", "symbolSize": 8, "symbolStrokeWidth": 0, "symbolOffset": 12, "labelOffset": 16, "labelExpr": "datum.label + '\u00a0\u00a0\u00a0\u00a0\u00a0\u00a0\u200b'"}}}},
  {"data": {"name": "b1r"}, "mark": {"type": "point", "filled": true, "size": 6, "opacity": 1},
   "encoding": {"x": {"field": "t", "type": "quantitative", "axis": null}, "y": {"field": "v", "type": "quantitative", "axis": null},
    "color": {"datum": "Position in Reproduction"}}},
  {"data": {"name": "b2d"}, "mark": {"type": "point", "filled": false, "size": 28, "strokeWidth": 0.8, "opacity": 1},
   "encoding": {"x": {"field": "t", "type": "quantitative", "axis": null}, "y": {"field": "v", "type": "quantitative", "axis": null},
    "stroke": {"datum": "D", "scale": {"domain": ["D", "R"], "range": ["#0000ff", "#ff00ff"]}, "legend": null}}},
  {"data": {"name": "b2r"}, "mark": {"type": "point", "filled": false, "size": 28, "strokeWidth": 0.8, "opacity": 1},
   "encoding": {"x": {"field": "t", "type": "quantitative", "axis": {"orient": "top", "labels": false, "title": null, "values": [0, 2, 4, 6, 8, 10]}}, "y": {"field": "v", "type": "quantitative", "axis": {"orient": "right", "labels": false, "title": null, "minExtent": 0, "values": [-0.6, -0.4, -0.2, 0, 0.2, 0.4]}},
    "stroke": {"datum": "R", "legend": null}}}
 ]},
{"width": 252, "height": 177,
 "title": {"text": "(c) J oint Position 5 and 6", "anchor": "start", "dx": 32},
 "resolve": {"axis": {"x": "independent", "y": "independent"}},
 "layer": [
  {"data": {"name": "c1d"}, "mark": {"type": "point", "filled": true, "size": 6, "opacity": 1},
   "encoding": {"x": {"field": "t", "type": "quantitative", "scale": {"domain": [0, 10], "nice": false, "zero": false}, "axis": {"title": "Time (s)", "values": [0, 2, 4, 6, 8, 10]}},
    "y": {"field": "v", "type": "quantitative", "scale": {"domain": [-0.5, 0.5], "nice": false, "zero": false}, "axis": {"title": "J oint Angle (rad)", "values": [-0.5, 0, 0.5], "labelExpr": "replace(format(datum.value, ''), '−', '-')"}},
    "color": {"datum": "Position in Demonstration", "scale": {"domain": ["Position in Demonstration", "Position in Reproduction"], "range": ["#0000ff", "#ff00ff"]}, "legend": {"orient": "none", "legendX": 60, "legendY": 138, "title": null, "padding": 4, "rowPadding": 2, "symbolType": "circle", "symbolSize": 8, "symbolStrokeWidth": 0, "symbolOffset": 12, "labelOffset": 16, "labelExpr": "datum.label + '\u00a0\u00a0\u00a0\u00a0\u00a0\u00a0\u200b'"}}}},
  {"data": {"name": "c1r"}, "mark": {"type": "point", "filled": true, "size": 6, "opacity": 1},
   "encoding": {"x": {"field": "t", "type": "quantitative", "axis": null}, "y": {"field": "v", "type": "quantitative", "axis": null},
    "color": {"datum": "Position in Reproduction"}}},
  {"data": {"name": "c2d"}, "mark": {"type": "point", "filled": false, "size": 28, "strokeWidth": 0.8, "opacity": 1},
   "encoding": {"x": {"field": "t", "type": "quantitative", "axis": null}, "y": {"field": "v", "type": "quantitative", "axis": null},
    "stroke": {"datum": "D", "scale": {"domain": ["D", "R"], "range": ["#0000ff", "#ff00ff"]}, "legend": null}}},
  {"data": {"name": "c2r"}, "mark": {"type": "point", "filled": false, "size": 28, "strokeWidth": 0.8, "opacity": 1},
   "encoding": {"x": {"field": "t", "type": "quantitative", "axis": {"orient": "top", "labels": false, "title": null, "values": [0, 2, 4, 6, 8, 10]}}, "y": {"field": "v", "type": "quantitative", "axis": {"orient": "right", "labels": false, "title": null, "minExtent": 0, "values": [-0.5, 0, 0.5]}},
    "stroke": {"datum": "R", "legend": null}}}
 ]},
{"width": 269, "height": 177,
 "title": {"text": "(d) Example force", "anchor": "start", "dx": 67},
 "resolve": {"axis": {"x": "independent", "y": "independent"}},
 "layer": [
  {"data": {"name": "fd"}, "mark": {"type": "line", "strokeWidth": 1},
   "encoding": {"x": {"field": "t", "type": "quantitative", "scale": {"domain": [0, 10], "nice": false, "zero": false}, "axis": {"title": "Time (s)", "values": [0, 2, 4, 6, 8, 10]}},
    "y": {"field": "v", "type": "quantitative", "scale": {"domain": [-80, 20], "nice": false, "zero": false}, "axis": {"title": "Force z (N)", "values": [-80, -60, -40, -20, 0, 20], "labelExpr": "replace(format(datum.value, ''), '−', '-')"}},
    "color": {"datum": "Force in demo", "scale": {"domain": ["Force in demo", "Force in Reproduction"], "range": ["#0000ff", "#ff00ff"]}, "legend": {"orient": "none", "legendX": 65, "legendY": 138, "title": null, "padding": 2.5, "rowPadding": 4, "symbolType": "M-5.8,0H5.8", "symbolSize": 36, "symbolStrokeWidth": 1, "symbolOffset": 12.5, "labelOffset": 15.5, "labelExpr": "datum.label + '\u00a0\u00a0\u00a0\u00a0\u200b'"}}}},
  {"data": {"name": "fr"}, "mark": {"type": "line", "strokeWidth": 1},
   "encoding": {"x": {"field": "t", "type": "quantitative", "axis": {"orient": "top", "labels": false, "title": null, "values": [0, 2, 4, 6, 8, 10]}}, "y": {"field": "v", "type": "quantitative", "axis": {"orient": "right", "labels": false, "title": null, "minExtent": 0, "values": [-80, -60, -40, -20, 0, 20]}},
    "color": {"datum": "Force in Reproduction"}}}
 ]}
]
}
